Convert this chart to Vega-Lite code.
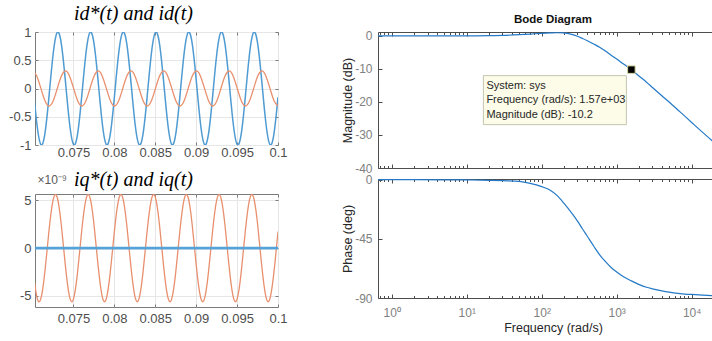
{
  "$schema": "https://vega.github.io/schema/vega-lite/v6.json",
  "background": "white",
  "padding": {"left": 8, "top": 3, "right": 0, "bottom": 0},
  "config": {
    "font": "Liberation Sans",
    "axis": {"domain": false, "labelFont": "Liberation Sans", "titleFont": "Liberation Sans", "labelFlush": false, "labelOverlap": false, "grid": false, "titleFontWeight": "normal"},
    "title": {"font": "Liberation Sans"}
  },
  "datasets": {
    "time": [
      {"t":0.07,"idr":0.156,"id":0.31,"iq":-1.73e-9,"iqr":0},
      {"t":0.0705,"idr":-0.588,"id":0.227,"iq":-4.99e-9,"iqr":0},
      {"t":0.071,"idr":-0.988,"id":0.011,"iq":-5.33e-9,"iqr":0},
      {"t":0.0715,"idr":-0.809,"id":-0.211,"iq":-2.54e-9,"iqr":0},
      {"t":0.072,"idr":-0.156,"id":-0.31,"iq":1.73e-9,"iqr":0},
      {"t":0.0725,"idr":0.588,"id":-0.227,"iq":4.99e-9,"iqr":0},
      {"t":0.073,"idr":0.988,"id":-0.011,"iq":5.33e-9,"iqr":0},
      {"t":0.0735,"idr":0.809,"id":0.211,"iq":2.54e-9,"iqr":0},
      {"t":0.074,"idr":0.156,"id":0.31,"iq":-1.73e-9,"iqr":0},
      {"t":0.0745,"idr":-0.588,"id":0.227,"iq":-4.99e-9,"iqr":0},
      {"t":0.075,"idr":-0.988,"id":0.011,"iq":-5.33e-9,"iqr":0},
      {"t":0.0755,"idr":-0.809,"id":-0.211,"iq":-2.54e-9,"iqr":0},
      {"t":0.076,"idr":-0.156,"id":-0.31,"iq":1.73e-9,"iqr":0},
      {"t":0.0765,"idr":0.588,"id":-0.227,"iq":4.99e-9,"iqr":0},
      {"t":0.077,"idr":0.988,"id":-0.011,"iq":5.33e-9,"iqr":0},
      {"t":0.0775,"idr":0.809,"id":0.211,"iq":2.54e-9,"iqr":0},
      {"t":0.078,"idr":0.156,"id":0.31,"iq":-1.73e-9,"iqr":0},
      {"t":0.0785,"idr":-0.588,"id":0.227,"iq":-4.99e-9,"iqr":0},
      {"t":0.079,"idr":-0.988,"id":0.011,"iq":-5.33e-9,"iqr":0},
      {"t":0.0795,"idr":-0.809,"id":-0.211,"iq":-2.54e-9,"iqr":0},
      {"t":0.08,"idr":-0.156,"id":-0.31,"iq":1.73e-9,"iqr":0},
      {"t":0.0805,"idr":0.588,"id":-0.227,"iq":4.99e-9,"iqr":0},
      {"t":0.081,"idr":0.988,"id":-0.011,"iq":5.33e-9,"iqr":0},
      {"t":0.0815,"idr":0.809,"id":0.211,"iq":2.54e-9,"iqr":0},
      {"t":0.082,"idr":0.156,"id":0.31,"iq":-1.73e-9,"iqr":0},
      {"t":0.0825,"idr":-0.588,"id":0.227,"iq":-4.99e-9,"iqr":0},
      {"t":0.083,"idr":-0.988,"id":0.011,"iq":-5.33e-9,"iqr":0},
      {"t":0.0835,"idr":-0.809,"id":-0.211,"iq":-2.54e-9,"iqr":0},
      {"t":0.084,"idr":-0.156,"id":-0.31,"iq":1.73e-9,"iqr":0},
      {"t":0.0845,"idr":0.588,"id":-0.227,"iq":4.99e-9,"iqr":0},
      {"t":0.085,"idr":0.988,"id":-0.011,"iq":5.33e-9,"iqr":0},
      {"t":0.0855,"idr":0.809,"id":0.211,"iq":2.54e-9,"iqr":0},
      {"t":0.086,"idr":0.156,"id":0.31,"iq":-1.73e-9,"iqr":0},
      {"t":0.0865,"idr":-0.588,"id":0.227,"iq":-4.99e-9,"iqr":0},
      {"t":0.087,"idr":-0.988,"id":0.011,"iq":-5.33e-9,"iqr":0},
      {"t":0.0875,"idr":-0.809,"id":-0.211,"iq":-2.54e-9,"iqr":0},
      {"t":0.088,"idr":-0.156,"id":-0.31,"iq":1.73e-9,"iqr":0},
      {"t":0.0885,"idr":0.588,"id":-0.227,"iq":4.99e-9,"iqr":0},
      {"t":0.089,"idr":0.988,"id":-0.011,"iq":5.33e-9,"iqr":0},
      {"t":0.0895,"idr":0.809,"id":0.211,"iq":2.54e-9,"iqr":0},
      {"t":0.09,"idr":0.156,"id":0.31,"iq":-1.73e-9,"iqr":0},
      {"t":0.0905,"idr":-0.588,"id":0.227,"iq":-4.99e-9,"iqr":0},
      {"t":0.091,"idr":-0.988,"id":0.011,"iq":-5.33e-9,"iqr":0},
      {"t":0.0915,"idr":-0.809,"id":-0.211,"iq":-2.54e-9,"iqr":0},
      {"t":0.092,"idr":-0.156,"id":-0.31,"iq":1.73e-9,"iqr":0},
      {"t":0.0925,"idr":0.588,"id":-0.227,"iq":4.99e-9,"iqr":0},
      {"t":0.093,"idr":0.988,"id":-0.011,"iq":5.33e-9,"iqr":0},
      {"t":0.0935,"idr":0.809,"id":0.211,"iq":2.54e-9,"iqr":0},
      {"t":0.094,"idr":0.156,"id":0.31,"iq":-1.73e-9,"iqr":0},
      {"t":0.0945,"idr":-0.588,"id":0.227,"iq":-4.99e-9,"iqr":0},
      {"t":0.095,"idr":-0.988,"id":0.011,"iq":-5.33e-9,"iqr":0},
      {"t":0.0955,"idr":-0.809,"id":-0.211,"iq":-2.54e-9,"iqr":0},
      {"t":0.096,"idr":-0.156,"id":-0.31,"iq":1.73e-9,"iqr":0},
      {"t":0.0965,"idr":0.588,"id":-0.227,"iq":4.99e-9,"iqr":0},
      {"t":0.097,"idr":0.988,"id":-0.011,"iq":5.33e-9,"iqr":0},
      {"t":0.0975,"idr":0.809,"id":0.211,"iq":2.54e-9,"iqr":0},
      {"t":0.098,"idr":0.156,"id":0.31,"iq":-1.73e-9,"iqr":0},
      {"t":0.0985,"idr":-0.588,"id":0.227,"iq":-4.99e-9,"iqr":0},
      {"t":0.099,"idr":-0.988,"id":0.011,"iq":-5.33e-9,"iqr":0},
      {"t":0.0995,"idr":-0.809,"id":-0.211,"iq":-2.54e-9,"iqr":0},
      {"t":0.1,"idr":-0.156,"id":-0.31,"iq":1.73e-9,"iqr":0}
    ],
    "bode": [
      {"freq":0.656,"mag":0,"phase":0},
      {"freq":1,"mag":0,"phase":0},
      {"freq":2,"mag":0,"phase":-0.02},
      {"freq":5,"mag":0,"phase":-0.1},
      {"freq":10,"mag":0.02,"phase":-0.2},
      {"freq":20,"mag":0.08,"phase":-0.5},
      {"freq":30,"mag":0.16,"phase":-0.8},
      {"freq":50,"mag":0.38,"phase":-1.3},
      {"freq":70,"mag":0.58,"phase":-2.8},
      {"freq":100,"mag":0.8,"phase":-5.3},
      {"freq":130,"mag":0.92,"phase":-8},
      {"freq":160,"mag":0.98,"phase":-12},
      {"freq":200,"mag":0.92,"phase":-18.3},
      {"freq":250,"mag":0.5,"phase":-25.3},
      {"freq":300,"mag":-0.1,"phase":-31.5},
      {"freq":350,"mag":-0.75,"phase":-37.5},
      {"freq":400,"mag":-1.35,"phase":-42.5},
      {"freq":500,"mag":-2.5,"phase":-51},
      {"freq":600,"mag":-3.5,"phase":-57.5},
      {"freq":700,"mag":-4.5,"phase":-62},
      {"freq":850,"mag":-5.9,"phase":-67},
      {"freq":1000,"mag":-7.0,"phase":-70.2},
      {"freq":1250,"mag":-8.6,"phase":-74},
      {"freq":1570,"mag":-10.2,"phase":-77},
      {"freq":2000,"mag":-12.2,"phase":-79.8},
      {"freq":2500,"mag":-14.0,"phase":-81.8},
      {"freq":3000,"mag":-15.6,"phase":-83},
      {"freq":4000,"mag":-18.1,"phase":-84.6},
      {"freq":5000,"mag":-20.0,"phase":-85.6},
      {"freq":7000,"mag":-23.0,"phase":-86.6},
      {"freq":10000,"mag":-26.2,"phase":-87.3},
      {"freq":14000,"mag":-29.2,"phase":-87.8},
      {"freq":20000,"mag":-32.3,"phase":-88.2},
      {"freq":30500,"mag":-36.0,"phase":-88.6}
    ],
    "tip": [{"freq":1570,"mag":-10.2}]
  },
  "spacing": 53,
  "hconcat": [
    {
      "spacing": 49,
      "bounds": "flush",
      "vconcat": [
        {
          "width": 243, "height": 113,
          "data": {"name": "time"},
          "view": {"stroke": "#7a7a7a"},
          "title": {"text": "id*(t) and id(t)", "font": "Liberation Serif", "fontSize": 20, "fontStyle": "italic", "fontWeight": "normal", "color": "#000000", "anchor": "start", "frame": "group", "dx": 39, "offset": 2},
          "resolve": {"axis": {"x": "independent", "y": "independent"}},
          "layer": [
            {
              "mark": {"type": "line", "color": "#4f9bd2", "strokeWidth": 1.5, "interpolate": "natural", "clip": true},
              "encoding": {
                "x": {"field": "t", "type": "quantitative", "scale": {"domain": [0.0703, 0.1], "nice": false, "zero": false},
                      "axis": {"orient": "bottom", "values": [0.075,0.08,0.085,0.09,0.095,0.1], "format": "~g", "grid": true, "gridColor": "#e6e6e6", "tickSize": -3, "tickColor": "#7a7a7a", "labelPadding": 4, "labelFontSize": 13, "labelColor": "#4d4d4d", "title": null}},
                "y": {"field": "idr", "type": "quantitative", "scale": {"domain": [-1, 1], "nice": false},
                      "axis": {"orient": "left", "values": [-1,-0.5,0,0.5,1], "labelExpr": "datum.value < 0 ? '-' + format(-datum.value, '~g') : format(datum.value, '~g')", "grid": true, "gridColor": "#e6e6e6", "tickSize": -3, "tickColor": "#7a7a7a", "labelPadding": 7, "labelFontSize": 13, "labelColor": "#4d4d4d", "title": null}}
              }
            },
            {
              "mark": {"type": "line", "color": "#e8906e", "strokeWidth": 1.3, "interpolate": "natural", "clip": true},
              "encoding": {
                "x": {"field": "t", "type": "quantitative", "axis": {"orient": "top", "values": [0.075,0.08,0.085,0.09,0.095,0.1], "labels": false, "tickSize": -3, "tickColor": "#7a7a7a", "title": null}},
                "y": {"field": "id", "type": "quantitative", "axis": {"orient": "right", "values": [-1,-0.5,0,0.5,1], "labels": false, "tickSize": -3, "tickColor": "#7a7a7a", "title": null}}
              }
            }
          ]
        },
        {
          "width": 243, "height": 113,
          "data": {"name": "time"},
          "view": {"stroke": "#7a7a7a"},
          "title": {"text": "iq*(t) and iq(t)", "font": "Liberation Serif", "fontSize": 20, "fontStyle": "italic", "fontWeight": "normal", "color": "#000000", "anchor": "start", "frame": "group", "dx": 39, "offset": -17},
          "resolve": {"axis": {"x": "independent", "y": "independent"}},
          "layer": [
            {
              "mark": {"type": "line", "color": "#e8906e", "strokeWidth": 1.3, "interpolate": "natural", "clip": true},
              "encoding": {
                "x": {"field": "t", "type": "quantitative", "scale": {"domain": [0.0703, 0.1], "nice": false, "zero": false},
                      "axis": {"orient": "bottom", "values": [0.075,0.08,0.085,0.09,0.095,0.1], "format": "~g", "grid": true, "gridColor": "#e6e6e6", "tickSize": -3, "tickColor": "#7a7a7a", "labelPadding": 8, "labelFontSize": 13, "labelColor": "#4d4d4d", "title": null}},
                "y": {"field": "iq", "type": "quantitative", "scale": {"domain": [-6.15e-9, 5.65e-9], "nice": false, "zero": false},
                      "axis": {"orient": "left", "values": [-5e-9, 0, 5e-9], "labelExpr": "datum.value > 0 ? '5' : datum.value < 0 ? '-5' : '0'", "grid": true, "gridColor": "#e6e6e6", "tickSize": -3, "tickColor": "#7a7a7a", "labelPadding": 7, "labelFontSize": 13, "labelColor": "#4d4d4d",
                               "title": "×10⁻⁹", "titleAngle": 0, "titleX": 2, "titleY": -11, "titleAlign": "left", "titleBaseline": "alphabetic", "titleFontSize": 12, "titleColor": "#595959"}}
              }
            },
            {
              "mark": {"type": "line", "color": "#55a2d8", "strokeWidth": 2.6, "clip": true},
              "encoding": {
                "x": {"field": "t", "type": "quantitative", "axis": {"orient": "top", "values": [0.075,0.08,0.085,0.09,0.095,0.1], "labels": false, "tickSize": -3, "tickColor": "#7a7a7a", "title": null}},
                "y": {"field": "iqr", "type": "quantitative", "axis": {"orient": "right", "values": [-5e-9, 0, 5e-9], "labels": false, "tickSize": -3, "tickColor": "#7a7a7a", "title": null}}
              }
            }
          ]
        }
      ]
    },
    {
      "spacing": 11,
      "bounds": "flush",
      "vconcat": [
        {
          "width": 350, "height": 136,
          "view": {"stroke": "#4d4d4d"},
          "title": {"text": "Bode Diagram", "font": "Liberation Sans", "fontSize": 11.5, "fontWeight": "bold", "color": "#111111", "anchor": "middle", "frame": "group", "offset": 4},
          "resolve": {"axis": {"x": "independent", "y": "independent"}},
          "layer": [
            {
              "data": {"name": "bode"},
              "mark": {"type": "line", "color": "#2479c7", "strokeWidth": 1.2, "interpolate": "monotone", "clip": true},
              "encoding": {
                "x": {"field": "freq", "type": "quantitative", "scale": {"type": "log", "domain": [0.656, 30500], "nice": false},
                      "axis": {"orient": "bottom", "values": [0.7,0.8,0.9,1,2,3,4,5,6,7,8,9,10,20,30,40,50,60,70,80,90,100,200,300,400,500,600,700,800,900,1000,2000,3000,4000,5000,6000,7000,8000,9000,10000,20000,30000], "labels": false,
                               "tickSize": {"condition": {"test": "datum.value===1||datum.value===10||datum.value===100||datum.value===1000||datum.value===10000", "value": -4}, "value": -2.5}, "tickColor": "#4d4d4d", "title": null}},
                "y": {"field": "mag", "type": "quantitative", "scale": {"domain": [-40, 1.2], "nice": false},
                      "axis": {"orient": "left", "values": [-40,-30,-20,-10,0], "labelExpr": "datum.value < 0 ? '-' + format(-datum.value, '~g') : format(datum.value, '~g')", "tickSize": -4, "tickColor": "#4d4d4d", "labelPadding": 10, "labelFontSize": 12, "labelColor": "#808080",
                               "title": "Magnitude (dB)", "titleFontSize": 12.5, "titleColor": "#262626", "titlePadding": 0}}
              }
            },
            {
              "data": {"name": "bode"},
              "mark": {"type": "line", "strokeOpacity": 0, "clip": true},
              "encoding": {
                "x": {"field": "freq", "type": "quantitative",
                      "axis": {"orient": "top", "values": [0.7,0.8,0.9,1,2,3,4,5,6,7,8,9,10,20,30,40,50,60,70,80,90,100,200,300,400,500,600,700,800,900,1000,2000,3000,4000,5000,6000,7000,8000,9000,10000,20000,30000], "labels": false,
                               "tickSize": {"condition": {"test": "datum.value===1||datum.value===10||datum.value===100||datum.value===1000||datum.value===10000", "value": -4}, "value": -2.5}, "tickColor": "#4d4d4d", "title": null}},
                "y": {"field": "mag", "type": "quantitative",
                      "axis": {"orient": "right", "values": [-40,-30,-20,-10,0], "labels": false, "tickSize": -4, "tickColor": "#4d4d4d", "title": null}}
              }
            },
            {
              "data": {"name": "tip"},
              "mark": {"type": "rect", "fill": "#fcfce8", "stroke": "#c4c4b0", "strokeWidth": 1, "xOffset": -148, "x2Offset": -5, "yOffset": 6, "y2Offset": 55},
              "encoding": {
                "x": {"field": "freq", "type": "quantitative", "axis": null},
                "x2": {"field": "freq"},
                "y": {"field": "mag", "type": "quantitative", "axis": null},
                "y2": {"field": "mag"}
              }
            },
            {
              "data": {"name": "tip"},
              "mark": {"type": "text", "text": ["System: sys", "Frequency (rad/s): 1.57e+03", "Magnitude (dB): -10.2"], "align": "left", "baseline": "middle", "dx": -145, "dy": 16.5, "fontSize": 11, "lineHeight": 14.2, "font": "Liberation Sans", "color": "#262626"},
              "encoding": {
                "x": {"field": "freq", "type": "quantitative", "axis": null},
                "y": {"field": "mag", "type": "quantitative", "axis": null}
              }
            },
            {
              "data": {"name": "tip"},
              "mark": {"type": "square", "size": 56, "filled": true, "color": "#000000", "stroke": "#d9d9a3", "strokeWidth": 1, "opacity": 1},
              "encoding": {
                "x": {"field": "freq", "type": "quantitative", "axis": null},
                "y": {"field": "mag", "type": "quantitative", "axis": null}
              }
            }
          ]
        },
        {
          "width": 350, "height": 119,
          "data": {"name": "bode"},
          "view": {"stroke": "#4d4d4d"},
          "resolve": {"axis": {"x": "independent", "y": "independent"}},
          "layer": [
            {
              "mark": {"type": "line", "color": "#2479c7", "strokeWidth": 1.2, "interpolate": "monotone", "clip": true},
              "encoding": {
                "x": {"field": "freq", "type": "quantitative", "scale": {"type": "log", "domain": [0.656, 30500], "nice": false},
                      "axis": {"orient": "bottom", "values": [0.7,0.8,0.9,1,2,3,4,5,6,7,8,9,10,20,30,40,50,60,70,80,90,100,200,300,400,500,600,700,800,900,1000,2000,3000,4000,5000,6000,7000,8000,9000,10000,20000,30000],
                               "labelExpr": "datum.value===1?'10⁰':datum.value===10?'10¹':datum.value===100?'10²':datum.value===1000?'10³':datum.value===10000?'10⁴':''",
                               "tickSize": {"condition": {"test": "datum.value===1||datum.value===10||datum.value===100||datum.value===1000||datum.value===10000", "value": -4}, "value": -2.5}, "tickColor": "#4d4d4d",
                               "labelPadding": 13, "labelFontSize": 12, "labelColor": "#808080",
                               "title": "Frequency  (rad/s)", "titleFontSize": 12.5, "titleColor": "#262626", "titlePadding": 2}},
                "y": {"field": "phase", "type": "quantitative", "scale": {"domain": [-90, 0.5], "nice": false},
                      "axis": {"orient": "left", "values": [-90,-45,0], "labelExpr": "datum.value < 0 ? '-' + format(-datum.value, '~g') : format(datum.value, '~g')", "tickSize": -4, "tickColor": "#4d4d4d", "labelPadding": 10, "labelFontSize": 12, "labelColor": "#808080",
                               "title": "Phase (deg)", "titleFontSize": 12.5, "titleColor": "#262626", "titlePadding": 0}}
              }
            },
            {
              "mark": {"type": "line", "strokeOpacity": 0, "clip": true},
              "encoding": {
                "x": {"field": "freq", "type": "quantitative",
                      "axis": {"orient": "top", "values": [0.7,0.8,0.9,1,2,3,4,5,6,7,8,9,10,20,30,40,50,60,70,80,90,100,200,300,400,500,600,700,800,900,1000,2000,3000,4000,5000,6000,7000,8000,9000,10000,20000,30000], "labels": false,
                               "tickSize": {"condition": {"test": "datum.value===1||datum.value===10||datum.value===100||datum.value===1000||datum.value===10000", "value": -4}, "value": -2.5}, "tickColor": "#4d4d4d", "title": null}},
                "y": {"field": "phase", "type": "quantitative",
                      "axis": {"orient": "right", "values": [-90,-45,0], "labels": false, "tickSize": -4, "tickColor": "#4d4d4d", "title": null}}
              }
            }
          ]
        }
      ]
    }
  ]
}
